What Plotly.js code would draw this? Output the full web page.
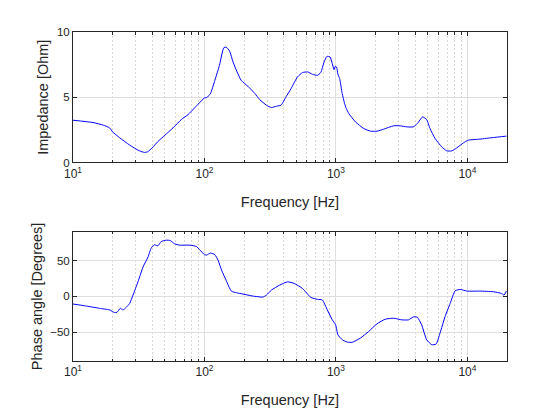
<!DOCTYPE html>
<html>
<head>
<meta charset="utf-8">
<script src="https://cdn.plot.ly/plotly-3.0.1.min.js"></script>
<style>html,body{margin:0;padding:0;background:#fff;}#plot{width:560px;height:420px;}</style>
</head>
<body>
<div id="plot"></div>
<script>
var freqZ = [10,14.2,17,19,20,22.6,27,32,35,37,40,44,50,57.6,66.6,75,84,94.6,100,104,111,120,130,140,146,155,165,177,190,214,242,263,296,323,352,382,417,455,510,557,609,663,723,766,812,853,901,938,966,989,1012,1035,1067,1116,1163,1199,1254,1407,1628,1829,2052,2302,2743,3078,3453,3874,4156,4560,4897,5195,5673,6373,6961,7602,8302,9319,10170,12440,15700,19800];
var impedance = [3.24,3.06,2.86,2.65,2.35,1.9,1.33,0.89,0.77,0.82,1.12,1.58,2.09,2.65,3.29,3.67,4.18,4.72,4.95,4.97,5.28,6.3,7.45,8.78,8.85,8.55,7.7,6.94,6.3,5.84,5.28,4.82,4.39,4.21,4.31,4.39,5.03,5.65,6.56,6.89,6.94,6.76,6.68,6.89,7.7,8.13,8.09,7.58,7.12,7.37,7.3,6.76,6.43,5.28,4.52,4.13,3.75,3.11,2.6,2.4,2.4,2.55,2.81,2.81,2.73,2.73,2.98,3.49,3.29,2.6,1.84,1.2,0.89,0.89,1.12,1.5,1.71,1.79,1.91,2.02];

var freqP = [10,12.6,15.9,19,20.7,21.6,22.9,24,25.4,27,28.6,31.2,34.1,37.2,39.4,41.7,44.2,46.9,51.2,54.9,59.2,64.7,77.2,86.8,92,100,104,111,120,127,135,146,160,175,197,233,278,296,323,373,429,482,557,644,723,788,860,938,994,1035,1116,1218,1329,1536,1775,2052,2372,2743,3171,3561,3874,4156,4484,4897,5347,5781,6185,6765,7392,8067,8816,9900,12440,15700,18200,18980,19800];
var phase = [-10.6,-13.4,-16.6,-18.9,-22.6,-22.1,-16.6,-18.9,-15.2,-9.7,1.8,20.3,41,54.8,67.7,71.9,70.5,76.5,78.3,77.9,73.3,71.4,71.4,69.6,65,58.1,57.6,60.4,58.1,50.2,36.4,22.6,7.4,5.1,3.2,0.5,-0.9,1.8,8.8,15.7,20.3,18,11,-1.4,-4.1,-5,-18.9,-32.7,-39.6,-53.5,-60.4,-63.6,-64,-58,-48.8,-38.2,-31.8,-30.4,-32.7,-32.7,-28.6,-29,-39.6,-60.4,-67.3,-66.4,-51.2,-28.1,-9.7,7.8,9.7,7.4,7.4,6.5,4.1,1.8,7.4];

var xTickVals = [10,100,1000,10000];
var xTickText = ['10<sup>1</sup>','10<sup>2</sup>','10<sup>3</sup>','10<sup>4</sup>'];
var zTicks = [0,5,10];
var pTicks = [-50,0,50];
var xTitle = 'Frequency [Hz]';
var zTitle = 'Impedance [Ohm]';
var pTitle = 'Phase angle [Degrees]';

var txt = '#262626';
var gridc = '#dedede';
var fontFam = 'Liberation Sans, Arial, Helvetica, sans-serif';

function xaxisDef(anchor) {
  return {
    type: 'log',
    range: [1, Math.log10(20000)],
    tickvals: xTickVals,
    ticktext: xTickText,
    anchor: anchor,
    showline: true, linecolor: txt, linewidth: 1, mirror: 'allticks',
    ticks: 'inside', ticklen: 4, tickcolor: txt,
    showgrid: true, gridcolor: gridc, gridwidth: 1,
    minor: {dtick: 'D1', showgrid: true, gridcolor: '#d8d8d8', griddash: '2px,2px', ticks: 'inside', ticklen: 2.5, tickcolor: txt},
    tickfont: {family: fontFam, size: 12, color: txt},
    title: {text: xTitle, font: {family: fontFam, size: 14.5, color: txt}, standoff: 16},
    zeroline: false
  };
}
function yaxisDef(dom, range, ticks, title, anchor, so) {
  return {
    domain: dom,
    range: range,
    tickvals: ticks,
    anchor: anchor,
    showline: true, linecolor: txt, linewidth: 1, mirror: 'allticks',
    ticks: 'inside', ticklen: 4, tickcolor: txt,
    showgrid: true, gridcolor: gridc, gridwidth: 1,
    zeroline: false,
    tickfont: {family: fontFam, size: 11.5, color: txt},
    title: {text: title, font: {family: fontFam, size: 14.5, color: txt}, standoff: so}
  };
}

var lineStyle = {color: '#0000ff', width: 1, shape: 'spline', smoothing: 0.5};
var data = [
  {x: freqZ, y: impedance, type: 'scatter', mode: 'lines', line: lineStyle, xaxis: 'x', yaxis: 'y', hoverinfo: 'none'},
  {x: freqP, y: phase, type: 'scatter', mode: 'lines', line: lineStyle, xaxis: 'x2', yaxis: 'y2', hoverinfo: 'none'}
];

var layout = {
  width: 560, height: 420,
  margin: {l: 73, r: 53, t: 32, b: 59},
  paper_bgcolor: '#fff', plot_bgcolor: '#fff',
  showlegend: false,
  xaxis: xaxisDef('y'),
  yaxis: yaxisDef([0.6034, 1], [0, 10], zTicks, zTitle, 'x', 4),
  xaxis2: xaxisDef('y2'),
  yaxis2: yaxisDef([0, 0.3927], [-90, 90], pTicks, pTitle, 'x2', 4)
};

Plotly.newPlot('plot', data, layout, {staticPlot: true});
</script>
</body>
</html>
